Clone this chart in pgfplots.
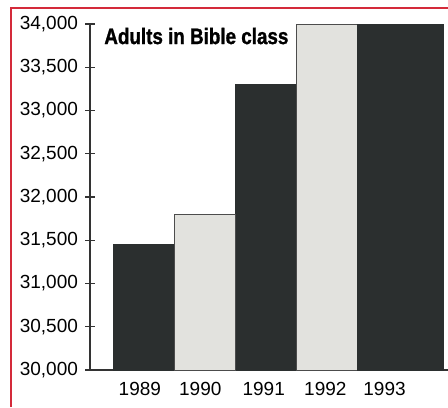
\documentclass[border=0pt]{standalone}
\usepackage{pgfplots}
\pgfplotsset{compat=1.18}
\usepackage{fontspec}
\setmainfont{Liberation Sans}
\newfontfamily\titlefont[FakeStretch=0.84,FakeBold=1.2]{Liberation Sans}
\definecolor{darkbar}{HTML}{2B2F2F}
\definecolor{lightbar}{HTML}{E2E2DE}
\definecolor{framered}{HTML}{D42A3A}

\begin{document}
\begin{tikzpicture}
  \path[use as bounding box] (0,0) rectangle (224pt,203.5pt);
  \begin{axis}[
    at = {(45pt,18.5pt)}, anchor = south west,
    scale only axis,
    width = 179pt, height = 173pt,
    xmin = -0.877, xmax = 4.99,
    ymin = 30000, ymax = 34000,
    enlargelimits = false,
    axis lines = left,
    axis line style = {-, line width = 0.6pt, color = black!80},
    ybar, bar width = 1,
    xtick = {-0.06,0.93,1.97,2.98,3.95},
    xticklabels = {1989,1990,1991,1992,1993},
    major x tick style = {draw = none},
    ytick = {30000,30500,...,34000},
    scaled y ticks = false,
    tick align = center,
    major tick length = 5pt,
    tick style = {line width = 0.6pt, color = black!80},
    tick label style = {font = \fontsize{9.5}{11}\selectfont},
    /pgf/number format/assume math mode = true,
    yticklabel style = {/pgf/number format/fixed, /pgf/number format/1000 sep = {,}},
    clip = false,
  ]
    \addplot[fill = darkbar, draw = darkbar, bar shift = 0] coordinates { (0,31450) (2,33300) };
    \addplot[fill = lightbar, draw = black!70, line width = 0.4pt, bar shift = 0] coordinates { (1,31800) (3,34000) };
    \addplot[fill = darkbar, draw = darkbar, bar shift = 0, bar width = 1.41] coordinates { (4.205,34000) };

    \node[anchor = base west, inner sep = 0pt, font = \titlefont\bfseries\fontsize{11.2}{13}\selectfont]
      at (rel axis cs:0.039,0.942) {Adults in Bible class};
  \end{axis}
  \draw[framered, line width = 1pt] (5.25pt,0) -- (5.25pt,199.5pt) -- (224pt,199.5pt);
\end{tikzpicture}
\end{document}
